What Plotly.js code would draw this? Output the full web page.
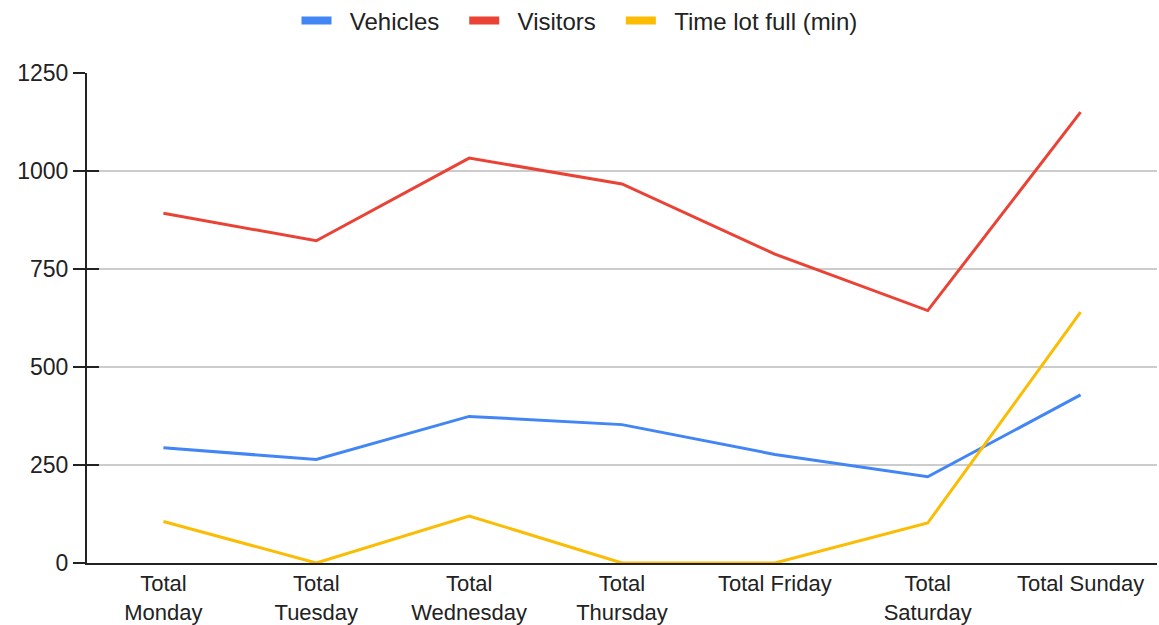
<!DOCTYPE html>
<html>
<head>
<meta charset="utf-8">
<script src="https://cdn.plot.ly/plotly-3.0.1.min.js"></script>
<style>html,body{margin:0;padding:0;background:#fff;}#chart{width:1159px;height:625px;}</style>
</head>
<body>
<div id="chart"></div>
<script>
const categories = ["Total<br>Monday","Total<br>Tuesday","Total<br>Wednesday","Total<br>Thursday","Total Friday","Total<br>Saturday","Total Sunday"];
const vehicles = [294, 264, 374, 353, 277, 220, 429];
const visitors = [892, 822, 1033, 967, 788, 644, 1150];
const timeLotFull = [106, 0, 120, 0, 0, 102, 640];
const seriesNames = ["Vehicles","Visitors","Time lot full (min)"];
const colors = ["#4285F4","#EA4335","#FBBC04"];
const yTicks = [0, 250, 500, 750, 1000, 1250];

const series = [vehicles, visitors, timeLotFull];
const traces = [];
// invisible helper on yaxis2 so its inside tick marks are drawn
traces.push({x: [categories[0]], y: [yTicks[0]], yaxis: 'y2', type: 'scatter', mode: 'markers',
  marker: {opacity: 0, size: 1}, showlegend: false, hoverinfo: 'skip'});
series.forEach((vals, i) => {
  traces.push({x: categories, y: vals, type: 'scatter', mode: 'lines', name: seriesNames[i],
    line: {color: colors[i], width: 3}, showlegend: false, hoverinfo: 'x+y'});
});
const NB = '\u00A0';
series.forEach((vals, i) => {
  const trail = i < series.length - 1 ? NB + NB + NB : '';
  traces.push({x: [null], y: [null], type: 'scatter', mode: 'lines', name: NB + NB + seriesNames[i] + trail,
    line: {color: colors[i], width: 8}, showlegend: true});
});

const layout = {
  width: 1159, height: 625,
  margin: {l: 87, r: 2, t: 73, b: 62},
  paper_bgcolor: '#fff', plot_bgcolor: '#fff',
  font: {family: 'Liberation Sans, Arial, sans-serif', size: 22, color: '#222'},
  showlegend: true,
  legend: {orientation: 'h', x: 0.5, xanchor: 'center', xref: 'container', y: 1 - 21 / 625, yanchor: 'middle', yref: 'container',
    font: {size: 24, color: '#222'}, itemwidth: 30, tracegroupgap: 0},
  xaxis: {type: 'category', range: [-0.5, 6.5], showgrid: false, showline: true, linecolor: '#222', linewidth: 2,
    ticks: '', tickfont: {size: 22, color: '#222'}, fixedrange: true, zeroline: false, automargin: false},
  yaxis: {range: [0, 1250], tickvals: yTicks, ticktext: yTicks.map(String), showgrid: true, gridcolor: '#cccccc', gridwidth: 2,
    showline: true, linecolor: '#222', linewidth: 2, ticks: 'outside', ticklen: 12, tickwidth: 2, tickcolor: '#222',
    tickfont: {size: 23, color: '#222'}, zeroline: false, fixedrange: true, ticklabelstandoff: 0, automargin: false},
  yaxis2: {overlaying: 'y', range: [0, 1250], tickvals: yTicks, showticklabels: false, showgrid: false, zeroline: false,
    ticks: 'inside', ticklen: 12, tickwidth: 2, tickcolor: '#222', showline: false, side: 'left', fixedrange: true, automargin: false}
};
Plotly.newPlot('chart', traces, layout, {displayModeBar: false, staticPlot: true});
</script>
</body>
</html>
